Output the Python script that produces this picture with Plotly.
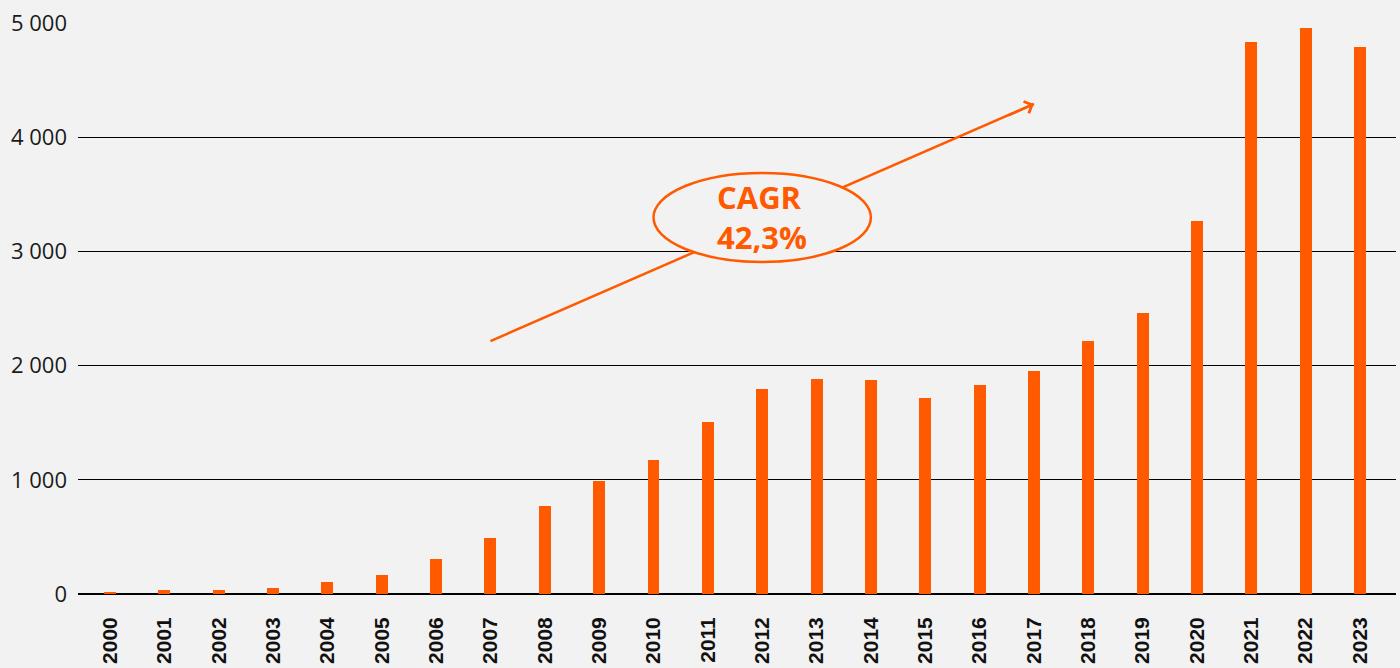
import plotly.graph_objects as go

years = [str(y) for y in range(2000, 2024)]
values = [18, 35, 35, 52, 105, 166, 306, 490, 770, 990, 1173, 1506, 1795, 1883,
          1874, 1716, 1830, 1953, 2215, 2461, 3266, 4834, 4956, 4790]
y_ticks = [0, 1000, 2000, 3000, 4000, 5000]
y_tick_labels = ["0", "1 000", "2 000", "3 000", "4 000", "5 000"]

cagr_text = "CAGR<br>42,3%"
arrow_start = (7, 2215)
arrow_end = (17, 4291)
ellipse_x = (10, 14)
ellipse_y = (2907, 3687)

ORANGE = "#FF5A00"
BG = "#F2F2F2"

fig = go.Figure()
fig.add_trace(go.Bar(x=list(range(len(years))), y=values, marker_color=ORANGE,
                     marker_line_width=0, width=0.22))

# arrow line (under ellipse)
fig.add_shape(type="line", xref="x", yref="y",
              x0=arrow_start[0], y0=arrow_start[1], x1=arrow_end[0], y1=arrow_end[1],
              line=dict(color=ORANGE, width=2.5), layer="above")
fig.add_shape(type="circle", xref="x", yref="y",
              x0=ellipse_x[0], x1=ellipse_x[1], y0=ellipse_y[0], y1=ellipse_y[1],
              line=dict(color=ORANGE, width=2.5), fillcolor=BG, layer="above")
# arrow head
fig.add_annotation(x=arrow_end[0], y=arrow_end[1], xref="x", yref="y", text="",
                   showarrow=True, arrowhead=4, arrowsize=1, arrowwidth=2.5,
                   arrowcolor=ORANGE, ax=-27, ay=12)
fig.add_annotation(x=(ellipse_x[0] + ellipse_x[1]) / 2, y=(ellipse_y[0] + ellipse_y[1]) / 2,
                   xref="x", yref="y", text=cagr_text, showarrow=False, align="left",
                   font=dict(family="Open Sans", size=31, color=ORANGE, weight="bold"))

fig.update_layout(
    width=1400, height=668,
    paper_bgcolor=BG, plot_bgcolor=BG,
    margin=dict(l=78, r=4, t=23, b=74),
    showlegend=False,
    font=dict(family="Open Sans", size=22, color="#1a1a1a"),
    bargap=0,
)
fig.update_xaxes(
    range=[-0.589, 23.662],
    tickmode="array", tickvals=list(range(len(years))), ticktext=years,
    tickangle=-90,
    tickfont=dict(family="Liberation Sans, Arial", size=21, weight="bold", color="#111111"),
    showgrid=False, zeroline=False, showline=False, ticks="",
    automargin=False, ticklabelstandoff=18,
)
fig.update_yaxes(
    range=[0, 5000],
    tickmode="array", tickvals=y_ticks, ticktext=y_tick_labels,
    showgrid=True, gridcolor="#000000", gridwidth=1,
    zeroline=True, zerolinecolor="#000000", zerolinewidth=1.5,
    showline=False, ticks="", automargin=False, ticklabelstandoff=10,
)

fig.write_html(
    "out.html",
    config={"displayModeBar": False},
    post_script="document.body.style.margin='0';document.body.style.background='#F2F2F2';",
)
